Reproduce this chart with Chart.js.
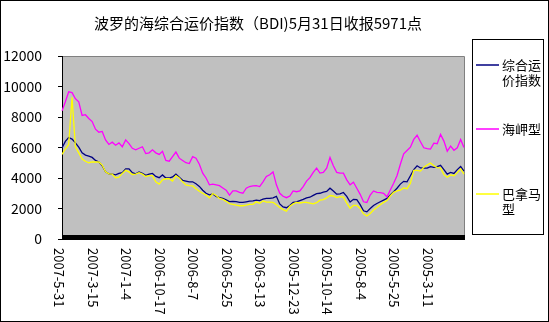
<!DOCTYPE html>
<html>
<head>
<meta charset="utf-8">
<script src="https://cdn.jsdelivr.net/npm/chart.js@4.4.0/dist/chart.umd.min.js"></script>
<style>
  html, body { margin: 0; padding: 0; background: #fff; }
</style>
</head>
<body>
<canvas id="myChart" width="549" height="322"></canvas>
<script>
var title = "波罗的海综合运价指数（BDI)5月31日收报5971点";
var seriesNames = ["综合运价指数", "海岬型", "巴拿马型"];

// one date label every 10 points, newest on the left
var dateLabels = ["2007-5-31", "2007-3-15", "2007-1-4", "2006-10-17", "2006-8-7", "2006-5-25",
  "2006-3-13", "2005-12-23", "2005-10-14", "2005-8-4", "2005-5-25", "2005-3-11"];
var pointsPerLabel = 10;

var bdi = [
  5971, 6400, 6650, 6550, 6300, 6020, 5650, 5500, 5440, 5350,
  5150, 5050, 4800, 4400, 4270, 4260, 4210, 4300, 4350, 4600,
  4600, 4350, 4270, 4400, 4300, 4170, 4250, 4300, 4100, 4020,
  4200, 4000, 4000, 4070, 4250, 4050, 3850, 3800, 3750, 3750,
  3620, 3450, 3200, 3000, 2900, 2950, 2800, 2720, 2670, 2570,
  2450, 2470, 2450, 2400, 2400, 2440, 2480, 2500, 2550, 2520,
  2620, 2660, 2660, 2700, 2800, 2300, 2100, 2050, 2200, 2400,
  2440, 2520, 2600, 2700, 2740, 2860, 2980, 3000, 3080, 3120,
  3330, 3150, 2940, 2960, 3050, 2800, 2420, 2600, 2580, 2250,
  1850, 1780, 2000, 2200, 2330, 2440, 2550, 2660, 2880, 3100,
  3330, 3600, 3780, 3750, 4150, 4550, 4800, 4660, 4650, 4650,
  4750, 4700, 4750, 4830, 4550, 4250, 4370, 4300, 4550, 4750, 4450
];

var capesize = [
  8400, 9000, 9650, 9600, 9200, 9000, 8100, 8150, 7900, 7700,
  7200, 7000, 7050, 6500, 6200, 6350, 6150, 6300, 6050, 6500,
  6250, 5950, 5850, 5950, 6050, 5600, 5650, 5850, 5650, 5550,
  5750, 5150, 5100, 5400, 5700, 5300, 5150, 5000, 4950, 5400,
  5300, 4900, 4320, 4000, 3550, 3600, 3550, 3500, 3350, 3200,
  2880, 3150, 3150, 3060, 3000, 3330, 3440, 3480, 3500, 3440,
  3750, 4100, 4210, 4400, 3550, 3000, 2800, 2710, 2820, 3150,
  3100, 3150, 3440, 3800, 4020, 4370, 4650, 4320, 4370, 4650,
  5350, 4800, 4370, 4320, 4320, 3880, 3550, 3720, 3330, 2930,
  2440, 2400, 2880, 3150, 3060, 3040, 3000, 2770, 3210, 3660,
  4150, 4900, 5580, 5800, 6020, 6530, 6800, 6380, 5980, 5920,
  5900, 6280, 6250, 6860, 6420, 5760, 6090, 5820, 5980, 6530, 6000
];

var panamax = [
  5550, 5900, 6200, 9300, 6050, 5650, 5250, 5100, 5000, 5050,
  5050, 5050, 4850, 4400, 4270, 4250, 4020, 4050, 4300, 4500,
  4400, 4230, 4250, 4350, 4250, 4100, 4160, 4150, 3750, 3600,
  3880, 3950, 3950, 3800, 4150, 4000, 3750, 3550, 3500, 3480,
  3300, 3130, 3000, 2880, 2700, 2980, 2850, 2660, 2600, 2470,
  2320, 2270, 2220, 2180, 2180, 2220, 2270, 2270, 2440, 2350,
  2500, 2420, 2420, 2400, 2250, 2070, 1930, 1820, 2150, 2300,
  2400, 2360, 2400, 2400, 2350, 2300, 2380, 2550, 2580, 2700,
  2850, 2820, 2720, 2780, 2750, 2350, 2020, 2200, 2200, 2000,
  1650, 1510, 1670, 1900, 2060, 2250, 2400, 2520, 2820, 3060,
  3150, 3200, 3350, 3300, 3650, 4500, 4500, 4450, 4700, 4850,
  4980, 4800, 4680, 4660, 4220, 4050, 4200, 4150, 4350, 4600, 4250
];

var labels = [];
for (var i = 0; i < bdi.length; i++) {
  labels.push(i % pointsPerLabel == 0 ? (dateLabels[i / pointsPerLabel] || "") : "");
}

var fontFamily = "'Noto Sans CJK SC', sans-serif";
Chart.defaults.font.family = fontFamily;
Chart.defaults.color = '#000';

// plot background, frame, title, legend box and vertical date labels
var excelLook = {
  id: 'excelLook',
  beforeDraw: function(chart) {
    var ctx = chart.ctx, a = chart.chartArea;
    ctx.save();
    ctx.fillStyle = '#fff';
    ctx.fillRect(0, 0, chart.width, chart.height);
    ctx.fillStyle = '#c0c0c0';
    ctx.fillRect(a.left, a.top, a.right - a.left, a.bottom - a.top);
    ctx.strokeStyle = '#808080';
    ctx.lineWidth = 1;
    ctx.beginPath();
    ctx.moveTo(a.left, a.top + 0.5);
    ctx.lineTo(a.right + 0.5, a.top + 0.5);
    ctx.lineTo(a.right + 0.5, a.bottom);
    ctx.stroke();
    ctx.restore();
  },
  afterDraw: function(chart) {
    var ctx = chart.ctx, a = chart.chartArea;
    ctx.save();

    // heavy category axis line
    ctx.fillStyle = '#000';
    ctx.fillRect(a.left, a.bottom - 4, a.right - a.left + 1, 5);

    // outer border
    ctx.strokeStyle = '#000';
    ctx.lineWidth = 1;
    ctx.strokeRect(0.5, 0.5, chart.width - 1, chart.height - 1);

    // title
    ctx.font = '15px ' + fontFamily;
    ctx.textAlign = 'center';
    ctx.textBaseline = 'middle';
    ctx.fillText(title, 258, 23);

    // date labels, reading top to bottom
    var xs = chart.scales.x;
    ctx.font = '13px ' + fontFamily;
    ctx.textAlign = 'left';
    for (var i = 0; i < labels.length; i++) {
      if (!labels[i]) continue;
      var px = xs.getPixelForValue(i);
      ctx.save();
      ctx.translate(px - 3, 248);
      ctx.rotate(Math.PI / 2);
      ctx.fillText(labels[i], 0, 0);
      ctx.restore();
    }

    // legend
    ctx.strokeRect(472.5, 39.5, 71, 195);
    var rowY = [65, 129, 194];
    ctx.font = '13px ' + fontFamily;
    chart.data.datasets.forEach(function(ds, k) {
      ctx.strokeStyle = ds.borderColor;
      ctx.lineWidth = 1.5;
      ctx.beginPath();
      ctx.moveTo(476, rowY[k]);
      ctx.lineTo(499, rowY[k]);
      ctx.stroke();
      var txt = ds.label;
      for (var j = 0; j * 3 < txt.length; j++) {
        ctx.fillText(txt.substr(j * 3, 3), 502, rowY[k] + j * 15);
      }
    });
    ctx.restore();
  }
};

const ctx = document.getElementById('myChart').getContext('2d');
const myChart = new Chart(ctx, {
  type: 'line',
  data: {
    labels: labels,
    datasets: [{
      label: seriesNames[0],
      data: bdi,
      borderColor: '#000080',
      order: 2
    }, {
      label: seriesNames[1],
      data: capesize,
      borderColor: '#ff00ff',
      order: 1
    }, {
      label: seriesNames[2],
      data: panamax,
      borderColor: '#ffff00',
      order: 0
    }]
  },
  options: {
    responsive: false,
    animation: false,
    devicePixelRatio: 1,
    layout: { padding: { top: 56, right: 85, left: 0, bottom: 0 } },
    elements: {
      line: { borderWidth: 1.3, tension: 0 },
      point: { radius: 0 }
    },
    plugins: {
      legend: { display: false },
      title: { display: false },
      tooltip: { enabled: false }
    },
    scales: {
      x: {
        offset: false,
        ticks: { display: false },
        grid: { display: false },
        border: { display: false },
        afterFit: function(scale) { scale.height = 83; }
      },
      y: {
        min: 0,
        max: 12000,
        ticks: {
          stepSize: 2000,
          padding: 16,
          font: { size: 14 },
          color: '#000',
          callback: function(value) { return String(value); }
        },
        grid: { drawOnChartArea: false, tickLength: 4, color: '#000' },
        border: { display: true, color: '#000', width: 1 },
        afterFit: function(scale) { scale.width = 62; }
      }
    }
  },
  plugins: [excelLook]
});
</script>
</body>
</html>
